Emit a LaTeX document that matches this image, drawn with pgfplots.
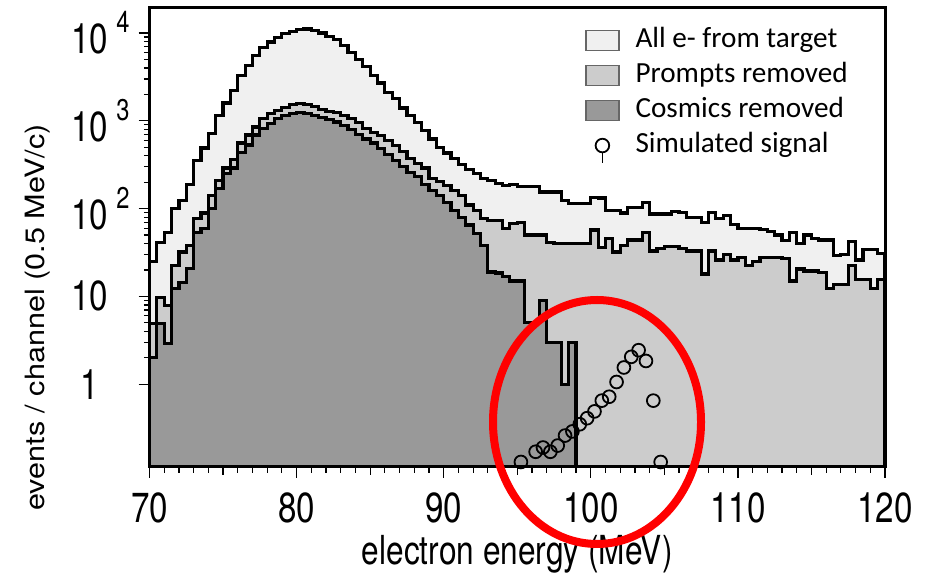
\documentclass[border=0pt]{standalone}
\usepackage{fontspec}
\setmainfont{TeX Gyre Heros}
\newfontfamily\legfont{Carlito}
\newfontfamily\axfont{TeX Gyre Heros}[FakeStretch=0.79]
\newfontfamily\ylfont{TeX Gyre Heros}[FakeStretch=1.15]
\usepackage{pgfplots}
\usepackage{pgfplotstable}
\pgfplotsset{compat=1.18}

\definecolor{allE}{HTML}{F0F0F0}
\definecolor{prompt}{HTML}{CCCCCC}
\definecolor{cosmic}{HTML}{999999}

% all e- from target, 0.5 MeV bins (left edge, counts)
\pgfplotstableread{
x y
70.0 25
70.5 41
71.0 54
71.5 100
72.0 125
72.5 190
73.0 350
73.5 490
74.0 720
74.5 1150
75.0 1600
75.5 2200
76.0 3300
76.5 4300
77.0 5500
77.5 6900
78.0 7900
78.5 8900
79.0 9800
79.5 10400
80.0 11000
80.5 11100
81.0 10800
81.5 10000
82.0 9100
82.5 8400
83.0 7200
83.5 6000
84.0 5000
84.5 4200
85.0 3300
85.5 2700
86.0 2100
86.5 1800
87.0 1400
87.5 1150
88.0 950
88.5 780
89.0 620
89.5 500
90.0 430
90.5 370
91.0 320
91.5 280
92.0 250
92.5 220
93.0 210
93.5 195
94.0 185
94.5 190
95.0 180
95.5 177
96.0 177
96.5 155
97.0 155
97.5 155
98.0 125
98.5 115
99.0 115
99.5 115
100.0 135
100.5 132
101.0 96
101.5 96
102.0 89
102.5 104
103.0 104
103.5 118
104.0 87
104.5 87
105.0 87
105.5 92
106.0 90
106.5 79
107.0 79
107.5 69
108.0 90
108.5 78
109.0 83
109.5 66
110.0 60
110.5 60
111.0 60
111.5 58
112.0 55
112.5 50
113.0 43
113.5 53
114.0 40
114.5 50
115.0 46
115.5 44
116.0 44
116.5 29
117.0 30
117.5 42
118.0 26
118.5 34
119.0 34
119.5 31
120.0 31
}\allEtab

% prompts removed
\pgfplotstableread{
x y
70.0 4.9
70.5 9.8
71.0 7.9
71.5 22.7
72.0 32
72.5 38
73.0 78
73.5 89
74.0 142
74.5 210
75.0 290
75.5 360
76.0 560
76.5 690
77.0 850
77.5 1070
78.0 1220
78.5 1320
79.0 1430
79.5 1550
80.0 1580
80.5 1520
81.0 1450
81.5 1350
82.0 1280
82.5 1250
83.0 1150
83.5 1070
84.0 950
84.5 820
85.0 740
85.5 680
86.0 600
86.5 520
87.0 450
87.5 375
88.0 330
88.5 290
89.0 220
89.5 205
90.0 185
90.5 160
91.0 142
91.5 110
92.0 95
92.5 78
93.0 74
93.5 74
94.0 60
94.5 68
95.0 70
95.5 50
96.0 50
96.5 50
97.0 41
97.5 40
98.0 40
98.5 40
99.0 40
99.5 40
100.0 57
100.5 36
101.0 46
101.5 32
102.0 38
102.5 44
103.0 44
103.5 53
104.0 33
104.5 35
105.0 37
105.5 37
106.0 35
106.5 33
107.0 33
107.5 18
108.0 33
108.5 26
109.0 30
109.5 26
110.0 28
110.5 22.5
111.0 25
111.5 28
112.0 28
112.5 28
113.0 27
113.5 15
114.0 20.5
114.5 19.5
115.0 19.5
115.5 18.7
116.0 12.4
116.5 13.6
117.0 13.6
117.5 22.5
118.0 15.7
118.5 15.7
119.0 12.4
119.5 15.7
120.0 15.7
}\promptTab

% cosmics removed
\pgfplotstableread{
x y
70.0 2
70.5 4.9
71.0 2.9
71.5 12.4
72.0 14.5
72.5 21
73.0 54
73.5 60
74.0 100
74.5 170
75.0 250
75.5 290
76.0 440
76.5 530
77.0 690
77.5 820
78.0 940
78.5 1070
79.0 1160
79.5 1220
80.0 1250
80.5 1220
81.0 1160
81.5 1100
82.0 1030
82.5 970
83.0 880
83.5 800
84.0 700
84.5 620
85.0 560
85.5 480
86.0 410
86.5 350
87.0 300
87.5 260
88.0 230
88.5 190
89.0 160
89.5 140
90.0 118
90.5 95
91.0 80
91.5 65
92.0 52
92.5 38
93.0 19
93.5 18.5
94.0 17
94.5 15
95.0 15
95.5 5
96.0 5
96.5 9
97.0 3
97.5 3
98.0 1
98.5 3
99.0 3
}\cosmicTab

% simulated signal (bin centres)
\pgfplotstableread{
x y
95.25 0.13
96.25 0.17
96.75 0.19
97.25 0.17
97.75 0.20
98.25 0.26
98.75 0.29
99.25 0.35
99.75 0.41
100.25 0.49
100.75 0.65
101.25 0.72
101.75 1.06
102.25 1.55
102.75 2.05
103.25 2.44
103.75 1.84
104.25 0.65
104.75 0.13
}\sigTab

\newcommand\pw[1]{10\rlap{\hspace{0.2em}\raisebox{0.5em}{\fontsize{15}{15}\selectfont #1}}}

\begin{document}
\begin{tikzpicture}
\path[use as bounding box] (0,0) rectangle (467.5pt,288.5pt);
\begin{axis}[
  scale only axis, at={(74.75pt,55pt)}, anchor=south west,
  width=367.75pt, height=229.5pt,
  xmin=70, xmax=120, ymode=log, ymin=0.114, ymax=19300,
  log origin y=infty,
  axis on top,
  axis line style={line width=1.5pt},
  tick pos=left, tick align=outside,
  tick style={black, line width=0.6pt},
  major tick length=5.5pt, minor tick length=2.8pt,
  xtick={70,80,...,120}, minor x tick num=9,
  extra x ticks={75,85,95,105,115}, extra x tick labels={},
  extra x tick style={major tick length=4pt},
  ytick={1,10,100,1000,10000},
  yticklabels={1,10,\pw{2},\pw{3},\pw{4}},
  /pgf/number format/assume math mode=true,
  xticklabel style={font=\axfont\fontsize{21}{24}\selectfont, yshift=-4pt},
  yticklabel style={font=\axfont\fontsize{21}{24}\selectfont, anchor=center, xshift=-24.5pt},
  xlabel={electron energy (MeV)},
  xlabel style={font=\axfont\fontsize{20}{24}\selectfont, at={(rel axis cs:0.5,-0.19)}, anchor=center},
  ylabel={events / channel (0.5 MeV/c)},
  ylabel style={font=\ylfont\fontsize{13.3}{16}\selectfont, at={(rel axis cs:-0.1516,0.326)}, anchor=center},
  legend style={draw=none, fill=none, inner sep=0pt, at={(rel axis cs:0.592,0.967)}, anchor=north west,
    font=\legfont\fontsize{14.6}{17}\selectfont, row sep=0.5pt,
    nodes={inner sep=1pt, text height=11pt, text depth=4pt},
    /tikz/every odd column/.append style={column sep=7pt}},
  legend cell align=left,
  legend image code/.code={\draw[#1, draw=black!60, line width=0.6pt] (0pt,-5pt) rectangle (16.5pt,5pt);},
]
\addplot[const plot, fill=allE, draw=black, line width=1.6pt] table {\allEtab} \closedcycle;
\addlegendentry{All e- from target}
\addplot[const plot, fill=prompt, draw=black, line width=1.6pt] table {\promptTab} \closedcycle;
\addlegendentry{Prompts removed}
\addplot[const plot, fill=cosmic, draw=black, line width=1.6pt] table {\cosmicTab} \closedcycle;
\addlegendentry{Cosmics removed}
\addplot[only marks, mark=o, mark size=3.2pt, mark options={black, line width=0.9pt},
  legend image code/.code={
    \draw[black, line width=0.9pt] (8.25pt,-3.5pt) -- (8.25pt,-8.5pt);
    \draw[black, line width=0.9pt] (8.25pt,0pt) circle (3.4pt);}]
  table {\sigTab};
\addlegendentry{Simulated signal}
\end{axis}
\draw[red, line width=4pt] (298.5pt,77.5pt) ellipse [x radius=52pt, y radius=61pt];
\end{tikzpicture}
\end{document}
